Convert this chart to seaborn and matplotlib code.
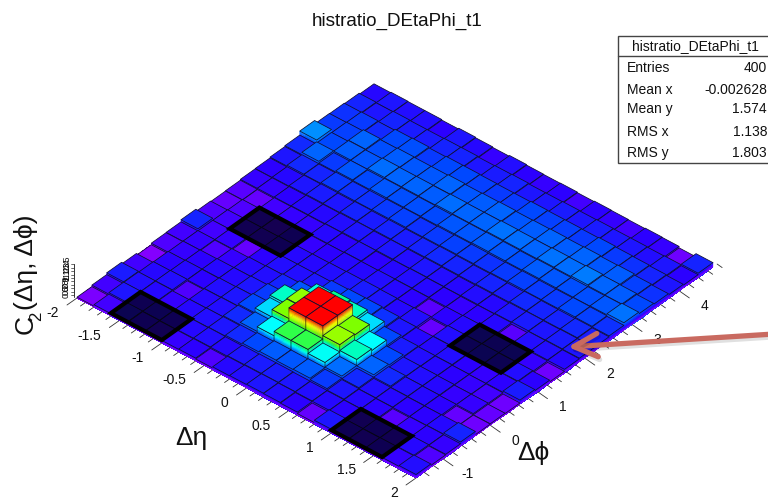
import matplotlib
matplotlib.use("Agg")
import matplotlib.pyplot as plt
import matplotlib.patheffects as pe
from matplotlib.collections import PolyCollection
from matplotlib.patches import Polygon, Rectangle
from matplotlib.transforms import Affine2D
import numpy as np
import seaborn as sns

title = "histratio_DEtaPhi_t1"
stat_names = ["Entries", "Mean x", "Mean y", "RMS x", "RMS y"]
stat_values = ["400", "-0.002628", "1.574", "1.138", "1.803"]
eta_major = [-2, -1.5, -1, -0.5, 0, 0.5, 1, 1.5, 2]
eta_labels = ["-2", "-1.5", "-1", "-0.5", "0", "0.5", "1", "1.5", "2"]
phi_major = [-1, 0, 1, 2, 3, 4]
phi_labels = ["-1", "0", "1", "2", "3", "4"]
z_labels = ["0.6", "0.7", "0.8", "0.9", "1", "1.1", "1.2", "1.3", "1.4", "1.5"]

# C2 level per bin in percent of the maximum: one row per dPhi bin, one column per dEta bin
row00 = [3, 8, 12, 10, 9, 9, 10, 7, 11, 12, 13, 12, 10, 5, 13, 10, 9, 10, 9, 12]
row01 = [8, 13, 10, 11, 10, 11, 12, 11, 13, 14, 14, 13, 12, 11, 10, 9, 10, 9, 11, 7]
row02 = [14, 12, 11, 9, 11, 12, 13, 16, 20, 23, 22, 23, 18, 13, 11, 10, 6, 9, 10, 9]
row03 = [8, 11, 12, 7, 11, 12, 16, 24, 40, 55, 55, 41, 25, 16, 12, 11, 10, 10, 11, 15]
row04 = [2, 10, 11, 10, 12, 13, 20, 37, 63, 100, 100, 66, 46, 24, 16, 12, 11, 10, 5, 4]
row05 = [7, 9, 10, 11, 11, 13, 18, 45, 65, 100, 100, 63, 40, 20, 13, 12, 11, 9, 9, 5]
row06 = [8, 9, 7, 9, 11, 12, 15, 22, 43, 50, 46, 37, 20, 14, 12, 11, 10, 9, 8, 4]
row07 = [15, 8, 9, 5, 10, 12, 12, 13, 18, 20, 20, 17, 13, 11, 11, 12, 10, 9, 10, 14]
row08 = [7, 8, 9, 9, 10, 11, 11, 12, 13, 14, 13, 11, 12, 5, 12, 11, 12, 11, 12, 10]
row09 = [5, 7, 9, 8, 10, 9, 10, 11, 11, 12, 11, 10, 6, 10, 11, 12, 11, 12, 9, 4]
row10 = [6, 5, 8, 9, 9, 11, 10, 12, 10, 11, 12, 11, 10, 9, 10, 11, 6, 12, 12, 11]
row11 = [9, 9, 10, 11, 11, 12, 13, 12, 13, 12, 13, 12, 11, 12, 11, 13, 14, 13, 14, 13]
row12 = [10, 11, 13, 14, 13, 15, 14, 15, 14, 15, 16, 15, 14, 15, 14, 16, 15, 15, 16, 14]
row13 = [13, 16, 15, 18, 17, 17, 18, 19, 17, 18, 19, 18, 17, 18, 19, 18, 18, 20, 19, 17]
row14 = [16, 24, 18, 22, 20, 22, 21, 21, 20, 22, 22, 23, 22, 21, 23, 22, 21, 21, 22, 26]
row15 = [30, 20, 23, 22, 25, 24, 24, 23, 25, 24, 24, 26, 25, 24, 26, 25, 27, 24, 23, 20]
row16 = [18, 19, 24, 21, 23, 22, 22, 24, 22, 23, 24, 22, 23, 24, 23, 24, 22, 23, 19, 17]
row17 = [17, 18, 16, 20, 21, 18, 20, 20, 19, 18, 18, 20, 19, 19, 18, 20, 18, 17, 15, 13]
row18 = [15, 13, 15, 14, 14, 15, 15, 13, 14, 15, 13, 13, 14, 13, 14, 13, 13, 12, 13, 10]
row19 = [11, 13, 12, 12, 10, 13, 11, 9, 12, 10, 9, 10, 8, 10, 9, 8, 10, 9, 4, 15]
rows = [row00, row01, row02, row03, row04, row05, row06, row07, row08, row09,
        row10, row11, row12, row13, row14, row15, row16, row17, row18, row19]

# dark masked regions, as (first eta bin, first phi bin)
mask_starts_eta = [2, 2, 15, 15]
mask_starts_phi = [0, 8, 0, 8]

values = np.array(rows, dtype=float) / 100.0

sns.set_theme(style="white")
plt.rcParams["font.family"] = ["Liberation Sans", "DejaVu Sans"]

rainbow = sns.blend_palette(
    ["#9a00ff", "#2a00ff", "#0048ff", "#0090ff", "#00ffff", "#00ff90",
     "#60ff00", "#c0ff00", "#ffff00", "#ff8c00", "#ff0000"], as_cmap=True)

W, H = 768, 501
fig = plt.figure(figsize=(W / 100, H / 100), dpi=100, facecolor="white")
ax = fig.add_axes([0, 0, 1, 1])

# parallel projection of the lego plot: bin index -> picture position
ORIGIN = np.array([77.0, 298.0])
E_STEP = np.array([16.95, 9.0])
P_STEP = np.array([14.85, -10.55])
Z_SCALE = 29.0


def project(i, j, z=0.0):
    p = ORIGIN + i * E_STEP + j * P_STEP
    return (p[0], p[1] - z * Z_SCALE)


# floor of the plot, drawn by seaborn and sheared into the projection
sns.heatmap(values, ax=ax, cmap=rainbow, vmin=0, vmax=1, cbar=False,
            xticklabels=False, yticklabels=False)
ax.collections[0].set_transform(
    Affine2D.from_values(E_STEP[0], E_STEP[1], P_STEP[0], P_STEP[1], ORIGIN[0], ORIGIN[1])
    + ax.transData)
ax.set_xlim(0, W)
ax.set_ylim(H, 0)
ax.set_axis_off()

verts, faces, edges, widths = [], [], [], []


def add(poly, fc, ec, lw):
    verts.append(poly)
    faces.append(fc)
    edges.append(ec)
    widths.append(lw)


def wall(a, b, v):
    levels = np.append(np.arange(0, v, 0.04), v)
    for lo, hi in zip(levels[:-1], levels[1:]):
        c = rainbow((lo + hi) / 2)
        add([project(*a, lo), project(*b, lo), project(*b, hi), project(*a, hi)], c, c, 0.2)
    if v > 0.3:
        add([project(*a, 0), project(*b, 0), project(*b, v), project(*a, v)], (0, 0, 0, 0), "#101010", 0.35)


for j in range(19, -1, -1):
    for i in range(20):
        v = values[j, i]
        wall((i + 1, j), (i + 1, j + 1), v)
        wall((i, j), (i + 1, j), v)
        add([project(i, j, v), project(i + 1, j, v), project(i + 1, j + 1, v), project(i, j + 1, v)],
            rainbow(v), "#101030", 0.55)

ax.add_collection(PolyCollection(verts, facecolors=faces, edgecolors=edges, linewidths=widths, zorder=3))

# masked regions
for i0, j0 in zip(mask_starts_eta, mask_starts_phi):
    corners = [project(i0, j0, 0.1), project(i0 + 3, j0, 0.1),
               project(i0 + 3, j0 + 2, 0.1), project(i0, j0 + 2, 0.1)]
    ax.add_patch(Polygon(corners, closed=True, facecolor="black", alpha=0.68, edgecolor="none", zorder=4))
    ax.add_patch(Polygon(corners, closed=True, fill=False, edgecolor="black", linewidth=3.0,
                         joinstyle="miter", zorder=5))

# axes
TICK = "#333333"
dir_eta = np.array([-10.0, 7.0])
dir_phi = np.array([10.0, 7.0])
for k in range(41):
    eta = -2 + k * 0.1
    i = (eta + 2) / 0.2
    base = np.array(project(i, 0))
    end = base + dir_eta * (1.0 if k % 5 == 0 else 0.5)
    ax.plot([base[0], end[0]], [base[1], end[1]], color=TICK, lw=0.6, zorder=2)
for k in range(32):
    phi = -1.4 + k * 0.2
    j = (phi + np.pi / 2) / (np.pi / 10)
    base = np.array(project(20, j))
    end = base + dir_phi * (1.0 if k % 5 == 2 else 0.5)
    ax.plot([base[0], end[0]], [base[1], end[1]], color=TICK, lw=0.6, zorder=2)

for val, lab in zip(eta_major, eta_labels):
    x, y = project((val + 2) / 0.2, 0)
    ax.text(x - 18, y + 15, lab, ha="right", va="center", fontsize=10, color="#111111")
for val, lab in zip(phi_major, phi_labels):
    x, y = project(20, (val + np.pi / 2) / (np.pi / 10))
    ax.text(x + 25, y + 15.5, lab, ha="center", va="center", fontsize=10, color="#111111")

# squeezed z axis
ax.plot([74, 74], [264, 297], color=TICK, lw=0.7, zorder=2)
for n, lab in enumerate(z_labels):
    y = 295 - n * 3.4
    ax.plot([71, 74], [y, y], color=TICK, lw=0.5, zorder=2)
    ax.text(66.5, y - 3, lab, ha="center", va="center", fontsize=6.5, rotation=90, color="#111111")

# titles and axis captions
ax.text(397, 21, title, ha="center", va="center", fontsize=13.6, color="#111111")
ax.text(26, 325, "C", rotation=90, ha="center", va="center", fontsize=19, color="#111111")
ax.text(37, 316, "2", rotation=90, ha="center", va="center", fontsize=12, color="#111111")
ax.text(26, 262, "(Δη, Δϕ)", rotation=90, ha="center", va="center", fontsize=19, color="#111111")
ax.text(191, 438, "Δη", ha="center", va="center", fontsize=19, color="#111111")
ax.text(533, 453, "Δϕ", ha="center", va="center", fontsize=19, color="#111111")

# statistics box
ax.add_patch(Rectangle((618, 36), 160, 127, facecolor="white", edgecolor="#444444", lw=1, zorder=6))
ax.plot([618, 778], [56, 56], color="#444444", lw=1, zorder=7)
ax.text(695, 46, title, ha="center", va="center", fontsize=10, color="#111111", zorder=7)
for name, val, y in zip(stat_names, stat_values, [68, 90, 109, 132, 153]):
    ax.text(627, y, name, ha="left", va="center", fontsize=10, color="#111111", zorder=7)
    ax.text(767, y, val, ha="right", va="center", fontsize=10, color="#111111", zorder=7)

# slide arrow
ax.annotate("", xy=(568, 347), xytext=(790, 333), zorder=8,
            arrowprops=dict(arrowstyle="->,head_length=0.85,head_width=0.42", color="#c96a60",
                            lw=3.8, mutation_scale=20, shrinkA=0, shrinkB=0,
                            path_effects=[pe.SimpleLineShadow(offset=(1, -2), alpha=0.12, shadow_color="black"),
                                          pe.Normal()]))

fig.savefig("out.png", dpi=100)
